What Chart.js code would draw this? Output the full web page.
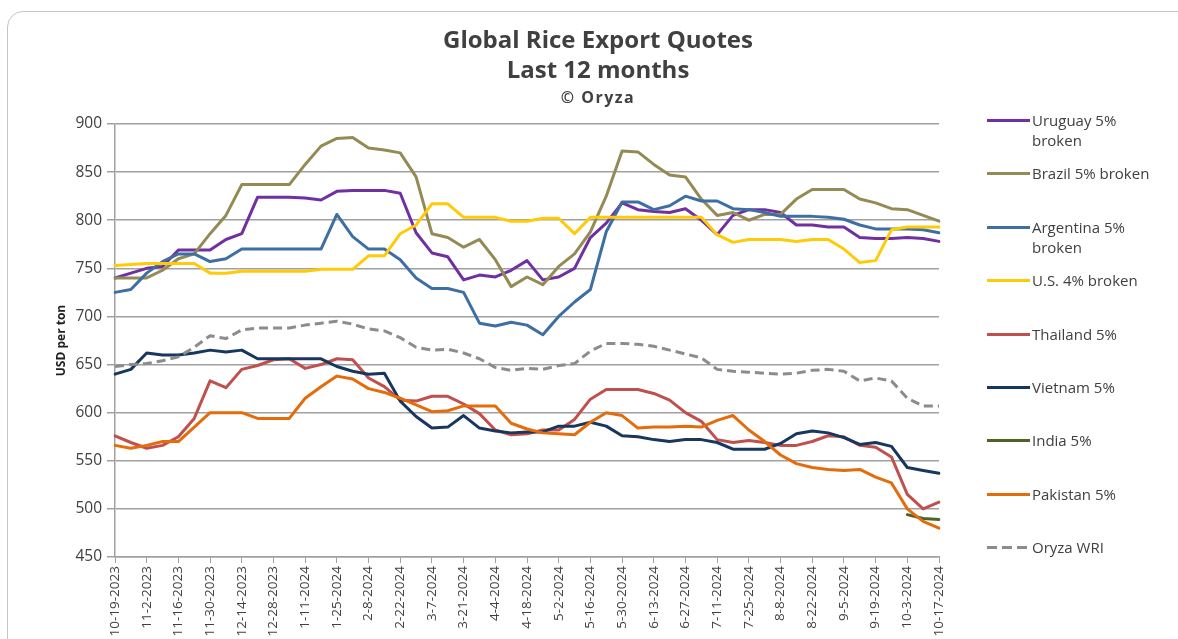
<!DOCTYPE html>
<html>
<head>
<meta charset="utf-8">
<script src="https://cdn.jsdelivr.net/npm/chart.js@4.4.0/dist/chart.umd.min.js"></script>
<style>
  html, body { margin: 0; padding: 0; background: #fff; overflow: hidden; }
  #wrap { position: relative; width: 1178px; height: 639px; }
  #card { position: absolute; left: 7px; top: 11px; width: 1200px; height: 700px;
          border: 1px solid #c4c4c4; border-radius: 16px; box-sizing: border-box; }
  #titles { position: absolute; left: 0; top: 24px; width: 1196px; text-align: center;
            font-family: "Open Sans", sans-serif; font-weight: bold; color: #404040; }
  #titles .t1 { font-size: 24px; line-height: 30px; }
  #titles .t2 { font-size: 16px; line-height: 26px; letter-spacing: 1.5px; }
  #chart { position: absolute; left: 0; top: 0; }
  #legend { position: absolute; left: 987px; top: 0; width: 190px;
            font-family: "Open Sans", sans-serif; font-size: 15px; color: #404040; }
  .item { position: absolute; left: 0; width: 185px; display: flex; align-items: flex-start; }
  .swatch { width: 43px; height: 3px; margin-top: 9px; margin-right: 2px; flex: none; }
  .lbl { line-height: 20px; width: 124px; }
</style>
</head>
<body>
<div id="wrap">
  <div id="card"></div>
  <canvas id="chart" width="1178" height="639"></canvas>
  <div id="titles">
    <div class="t1">Global Rice Export Quotes</div>
    <div class="t1">Last 12 months</div>
    <div class="t2">© Oryza</div>
  </div>
  <div id="legend"></div>
</div>
<script>
// weekly quotes (Thursdays), USD per ton
const weeks = [
  "10-19-2023", "10-26-2023", "11-2-2023", "11-9-2023", "11-16-2023", "11-23-2023",
  "11-30-2023", "12-7-2023", "12-14-2023", "12-21-2023", "12-28-2023", "1-4-2024",
  "1-11-2024", "1-18-2024", "1-25-2024", "2-1-2024", "2-8-2024", "2-15-2024",
  "2-22-2024", "2-29-2024", "3-7-2024", "3-14-2024", "3-21-2024", "3-28-2024",
  "4-4-2024", "4-11-2024", "4-18-2024", "4-25-2024", "5-2-2024", "5-9-2024",
  "5-16-2024", "5-23-2024", "5-30-2024", "6-6-2024", "6-13-2024", "6-20-2024",
  "6-27-2024", "7-4-2024", "7-11-2024", "7-18-2024", "7-25-2024", "8-1-2024",
  "8-8-2024", "8-15-2024", "8-22-2024", "8-29-2024", "9-5-2024", "9-12-2024",
  "9-19-2024", "9-26-2024", "10-3-2024", "10-10-2024", "10-17-2024"
];

const uruguay = [
  740, 745, 750, 752, 769, 769, 769, 780, 786, 824, 824, 824,
  823, 821, 830, 831, 831, 831, 828, 787, 766, 762, 738, 743,
  741, 748, 758, 738, 741, 750, 782, 797, 818, 811, 809, 808,
  812, 800, 785, 805, 811, 811, 808, 795, 795, 793, 793, 782,
  781, 781, 782, 781, 778
];
const brazil = [
  740, 740, 740, 748, 760, 765, 786, 805, 837, 837, 837, 837,
  858, 877, 885, 886, 875, 873, 870, 845, 786, 782, 772, 780,
  759, 731, 741, 733, 752, 765, 788, 825, 872, 871, 858, 847,
  845, 822, 805, 808, 800, 806, 806, 822, 832, 832, 832, 822,
  818, 812, 811, 805, 799
];
const argentina = [
  725, 728, 745, 757, 765, 765, 757, 760, 770, 770, 770, 770,
  770, 770, 806, 783, 770, 770, 759, 740, 729, 729, 725, 693,
  690, 694, 691, 681, 700, 715, 728, 788, 819, 819, 811, 815,
  825, 820, 820, 812, 811, 808, 804, 804, 804, 803, 801, 795,
  791, 791, 791, 790, 787
];
const us = [
  753, 754, 755, 755, 755, 755, 745, 745, 747, 747, 747, 747,
  747, 749, 749, 749, 763, 763, 786, 795, 817, 817, 803, 803,
  803, 799, 799, 802, 802, 786, 803, 803, 803, 803, 803, 803,
  803, 803, 785, 777, 780, 780, 780, 778, 780, 780, 770, 756,
  758, 790, 793, 793, 793
];
const thailand = [
  576, 569, 563, 566, 575, 594, 633, 626, 645, 649, 655, 656,
  646, 650, 656, 655, 636, 627, 613, 612, 617, 617, 609, 599,
  582, 577, 578, 582, 582, 593, 614, 624, 624, 624, 620, 613,
  600, 591, 572, 569, 571, 569, 566, 566, 570, 576, 575, 566,
  564, 554, 515, 500, 507
];
const vietnam = [
  640, 645, 662, 660, 660, 662, 665, 663, 665, 656, 656, 656,
  656, 656, 648, 643, 640, 641, 612, 596, 584, 585, 597, 584,
  581, 579, 580, 580, 586, 586, 590, 586, 576, 575, 572, 570,
  572, 572, 569, 562, 562, 562, 568, 578, 581, 579, 574, 567,
  569, 565, 543, 540, 537
];
const india = [
  null, null, null, null, null, null, null, null, null, null, null, null,
  null, null, null, null, null, null, null, null, null, null, null, null,
  null, null, null, null, null, null, null, null, null, null, null, null,
  null, null, null, null, null, null, null, null, null, null, null, null,
  null, null, 494, 490, 489
];
const pakistan = [
  566, 563, 566, 570, 570, 585, 600, 600, 600, 594, 594, 594,
  615, 627, 638, 635, 625, 621, 615, 608, 601, 602, 607, 607,
  607, 589, 583, 579, 578, 577, 590, 600, 597, 584, 585, 585,
  586, 585, 592, 597, 582, 570, 556, 547, 543, 541, 540, 541,
  533, 527, 500, 487, 480
];
const wri = [
  648, 650, 651, 654, 658, 668, 680, 677, 686, 688, 688, 688,
  691, 693, 695, 692, 687, 685, 678, 668, 665, 666, 662, 656,
  647, 644, 646, 645, 649, 651, 664, 672, 672, 671, 669, 665,
  661, 657, 645, 643, 642, 641, 640, 641, 644, 645, 643, 633,
  636, 633, 615, 607, 607
];

const seriesNames = [
  "Uruguay 5% broken", "Brazil 5% broken", "Argentina 5% broken", "U.S. 4% broken",
  "Thailand 5%", "Vietnam 5%", "India 5%", "Pakistan 5%", "Oryza WRI"
];
const seriesValues = [uruguay, brazil, argentina, us, thailand, vietnam, india, pakistan, wri];
const seriesColors = [
  "#7030A0", "#948A54", "#3E6FA2", "#FFCA08",
  "#C0504D", "#17375E", "#4F6228", "#E46C0A", "#8C8C8C"
];
const dashed = [false, false, false, false, false, false, false, false, true];

const datasets = seriesNames.map((name, i) => ({
  label: name,
  data: seriesValues[i],
  borderColor: seriesColors[i],
  backgroundColor: seriesColors[i],
  borderWidth: 3,
  borderDash: dashed[i] ? [9, 5] : [],
  borderJoinStyle: "round",
  borderCapStyle: dashed[i] ? "butt" : "round",
  pointRadius: 0,
  tension: 0,
  spanGaps: false,
  order: -i
}));

const gridGray = "#a0a0a0";

new Chart(document.getElementById("chart"), {
  type: "line",
  data: { labels: weeks, datasets },
  options: {
    responsive: false,
    animation: false,
    layout: { padding: { top: 124, left: 54, right: 239, bottom: 0 } },
    plugins: { legend: { display: false }, tooltip: { enabled: false } },
    scales: {
      x: {
        offset: false,
        afterFit: s => { s.height = 82; },
        grid: { drawOnChartArea: false, color: gridGray, tickLength: 6 },
        border: { color: gridGray, width: 1.5 },
        ticks: {
          autoSkip: false, maxRotation: 90, minRotation: 90, padding: 3,
          color: "#404040", font: { family: "Open Sans", size: 13.5 },
          callback: (v, i) => (i % 2 === 0 ? weeks[i] : null)
        }
      },
      y: {
        min: 450, max: 900,
        afterFit: s => { s.width = 61; },
        grid: { color: gridGray, lineWidth: 1.5, tickLength: 8 },
        border: { color: gridGray, width: 1.5 },
        ticks: { stepSize: 50, padding: 5, color: "#404040", font: { family: "Open Sans", size: 15.5 } },
        title: { display: true, text: "USD per ton", color: "#202020", padding: 0,
                 font: { family: "Open Sans", size: 12, weight: "bold" } }
      }
    }
  }
});

// legend on the right, built from the same series lists
const legend = document.getElementById("legend");
seriesNames.forEach((name, i) => {
  const item = document.createElement("div");
  item.className = "item";
  item.style.top = (110 + i * 53.4) + "px";
  const sw = document.createElement("div");
  sw.className = "swatch";
  sw.style.background = dashed[i]
    ? `repeating-linear-gradient(to right, ${seriesColors[i]} 0 10px, transparent 10px 15px)`
    : seriesColors[i];
  const lbl = document.createElement("div");
  lbl.className = "lbl";
  lbl.textContent = name;
  item.appendChild(sw);
  item.appendChild(lbl);
  legend.appendChild(item);
});
</script>
</body>
</html>
